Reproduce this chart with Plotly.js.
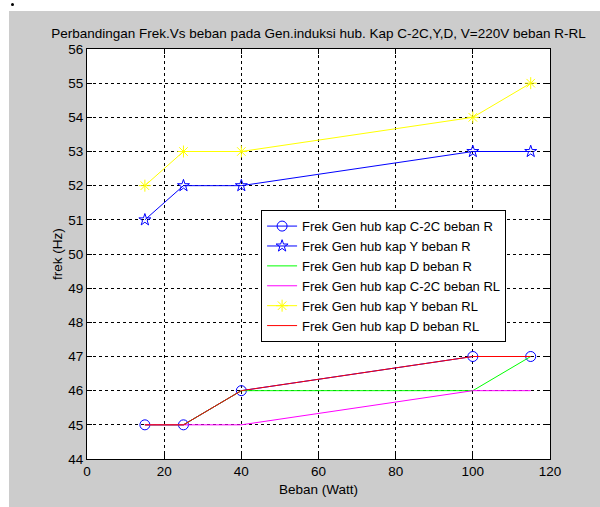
<!DOCTYPE html>
<html>
<head>
<meta charset="utf-8">
<script src="https://cdn.plot.ly/plotly-3.0.1.min.js"></script>
<style>
html,body{margin:0;padding:0;background:#fff;width:600px;height:507px;overflow:hidden;}
#dot{position:absolute;left:11px;top:3px;width:3px;height:3px;border-radius:50%;background:#000;}
#chart{position:absolute;left:9px;top:11px;width:591px;height:496px;}
</style>
</head>
<body>
<div id="dot"></div>
<div id="chart"></div>
<script>
const beban = [15, 25, 40, 100, 115];
const c2cR  = [45, 45, 46, 47, 47];
const yR    = [51, 52, 52, 53, 53];
const dR    = [45, 45, 46, 46, 47];
const c2cRL = [45, 45, 45, 46, 46];
const yRL   = [52, 53, 53, 54, 55];
const dRL   = [45, 45, 46, 47, 47];
const names = [
  'Frek Gen hub kap C-2C beban R',
  'Frek Gen hub kap Y beban R',
  'Frek Gen hub kap D beban R',
  'Frek Gen hub kap C-2C beban RL',
  'Frek Gen hub kap Y beban RL',
  'Frek Gen hub kap D beban RL'
];
const xTicks = [0, 20, 40, 60, 80, 100, 120];
const yTicks = [44, 45, 46, 47, 48, 49, 50, 51, 52, 53, 54, 55, 56];

const FONT = 'Liberation Sans, Arial, sans-serif';
const traces = [
  {x: beban, y: c2cR, name: names[0], mode: 'lines+markers',
   line: {color: '#0000ff', width: 1}, marker: {symbol: 'circle-open', size: 10, color: '#0000ff', line: {width: 1}}},
  {x: beban, y: yR, name: names[1], mode: 'lines+markers',
   line: {color: '#0000ff', width: 1}, marker: {symbol: 'star-open', size: 9, color: '#0000ff', line: {width: 1}}},
  {x: beban, y: dR, name: names[2], mode: 'lines',
   line: {color: '#00ff00', width: 1}},
  {x: beban, y: c2cRL, name: names[3], mode: 'lines',
   line: {color: '#ff00ff', width: 1}},
  {x: beban, y: yRL, name: names[4], mode: 'lines+markers',
   line: {color: '#ffff00', width: 1}, marker: {symbol: 'asterisk-open', size: 10, color: '#ffff00', line: {width: 1, color: '#ffff00'}}},
  {x: beban, y: dRL, name: names[5], mode: 'lines',
   line: {color: '#ff0000', width: 1}}
];

const axisCommon = {
  showline: true, linecolor: '#000', linewidth: 1, mirror: 'ticks',
  ticks: 'inside', ticklen: 5, tickcolor: '#000',
  showgrid: true, gridcolor: '#000', gridwidth: 1, griddash: '3px,3px',
  zeroline: false, tickfont: {family: FONT, size: 13.5, color: '#000'},
  fixedrange: true
};

const layout = {
  width: 591, height: 496,
  paper_bgcolor: '#cccccc', plot_bgcolor: '#ffffff',
  margin: {l: 78, r: 50, t: 38, b: 48},
  font: {family: FONT, size: 13.5, color: '#000'},
  title: {text: 'Perbandingan Frek.Vs beban pada Gen.induksi hub. Kap C-2C,Y,D, V=220V beban R-RL',
          font: {family: FONT, size: 13.5, color: '#000'}, x: 0.5, xref: 'paper', xanchor: 'center', y: 0.955, yanchor: 'middle'},
  xaxis: Object.assign({}, axisCommon, {range: [0, 120], tickvals: xTicks, ticktext: xTicks.map(String),
          title: {text: 'Beban (Watt)', font: {family: FONT, size: 13.5, color: '#000'}, standoff: 6}}),
  yaxis: Object.assign({}, axisCommon, {range: [44, 56], tickvals: yTicks, ticktext: yTicks.map(String),
          title: {text: 'frek (Hz)', font: {family: FONT, size: 13.5, color: '#000'}, standoff: 2}}),
  showlegend: true,
  legend: {x: 0.376, y: 0.607, xanchor: 'left', yanchor: 'top', bgcolor: '#ffffff',
           bordercolor: '#000', borderwidth: 1, font: {family: FONT, size: 13, color: '#000'},
           tracegroupgap: 0, itemwidth: 30}
};

Plotly.newPlot('chart', traces, layout, {displayModeBar: false, staticPlot: true});
</script>
</body>
</html>
